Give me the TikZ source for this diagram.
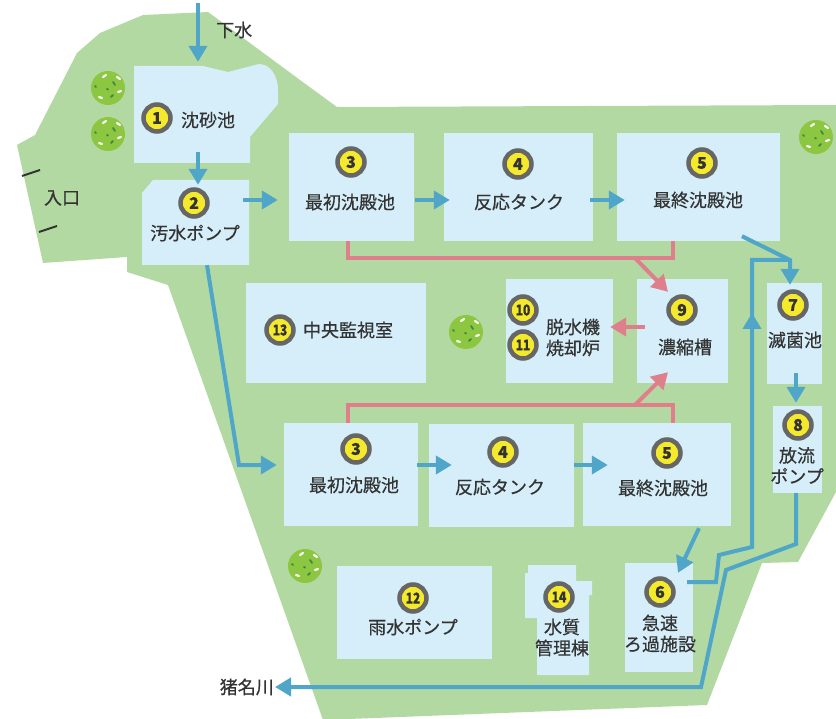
\documentclass[tikz,border=0pt]{standalone}
\usepackage{fontspec}
\setmainfont{Noto Sans CJK JP}[FakeBold=0.5]
\usetikzlibrary{arrows.meta,calc,fit}

\definecolor{lawn}{HTML}{B3D9A3}
\definecolor{tank}{HTML}{D5EEF9}
\definecolor{water}{HTML}{4FA6C8}
\definecolor{sludge}{HTML}{DF7F8C}
\definecolor{leaf}{HTML}{8DC641}
\definecolor{leafdark}{HTML}{3E8A45}
\definecolor{ring}{HTML}{666666}
\definecolor{badgefill}{HTML}{F5E92B}
\definecolor{ink}{HTML}{333333}

\tikzset{
  tankbox/.style={fill=tank, draw=none, inner sep=0pt},
  anchorbox/.style={draw=none, inner sep=0pt},
  badge/.style={circle, fill=badgefill, draw=ring, line width=4.5pt,
    minimum size=27pt, inner sep=0pt, text=ink,
    font=\bfseries\fontsize{16}{16}\selectfont},
  badgetwo/.style={badge, font=\bfseries\fontsize{15}{15}\selectfont},
  lbl/.style={text=ink, inner sep=0pt, align=center,
    font=\fontsize{18}{21}\selectfont},
  pipe/.style={draw=water, line width=4pt},
  flow/.style={pipe, -{Triangle[length=16pt,width=18pt]}},
  sludgepipe/.style={draw=sludge, line width=4pt},
  sludgeflow/.style={sludgepipe, -{Triangle[length=16pt,width=18pt]}},
  tick/.style={draw=ink, line width=2pt}
}

% a round shrub seen from above
\newcommand\shrubicon[1]{%
  \begin{scope}[shift={#1}]
    \fill[leaf] (0,0) circle (17);
    \draw[white, line width=2.2pt, line cap=round]
      (-5,-11) -- (-2,-13)  (9,-11) -- (12,-9)  (10,4) -- (13,3)
      (-9,9) -- (-6,10);
    \draw[leafdark, line width=1.8pt, line cap=round]
      (-13,-2) -- (-12,-1)  (5,-6) -- (7,-3)  (-1,1) -- (0,1.5)
      (3,9) -- (5,7);
  \end{scope}}

\begin{document}
\begin{tikzpicture}[x=1pt, y=-1pt]
\useasboundingbox (0,0) rectangle (836,719);

% site ground
\fill[lawn] (17,145) -- (35,135) -- (77,53) -- (100,33) -- (143,15)
  -- (208,12) -- (300,80) -- (337,107) -- (836,105) -- (836,492)
  -- (798,562) -- (762,563) -- (707,705) -- (400,717) -- (323,720)
  -- (202,380) -- (168,285) -- (127,272) -- (127,257) -- (43,263) -- cycle;

% entrance marks
\draw[tick] (22,176) -- (40,170);
\draw[tick] (39,232) -- (57,226);
\node[lbl] (entry) at (62,198) {入口};

% shrubs
\shrubicon{(108,88)}
\shrubicon{(108,134)}
\shrubicon{(816,137)}
\shrubicon{(466,332)}
\shrubicon{(305,566)}

% irregular buildings
\fill[tank] (134,66) -- (203,66) -- (228,72) -- (255,65)
  .. controls (270,60) and (279,78) .. (278,92) -- (278,104)
  -- (250,137) -- (250,163) -- (134,163) -- cycle;
\path node[anchorbox, fit={(134,65) (278,163)}] (b1) {};
\fill[tank] (142,193) -- (153,180) -- (249,180) -- (249,265) -- (142,265) -- cycle;
\path node[anchorbox, fit={(142,180) (249,265)}] (b2) {};
\fill[tank] (528,565) -- (576,565) -- (576,581) -- (592,581) -- (592,595)
  -- (589,595) -- (589,675) -- (537,675) -- (537,618) -- (525,618)
  -- (525,573) -- (528,573) -- cycle;
\path node[anchorbox, fit={(525,565) (592,675)}] (b14) {};

% rectangular buildings
\node[tankbox, fit={(289,133) (414,241)}] (b3t) {};
\node[tankbox, fit={(444,133) (593,241)}] (b4t) {};
\node[tankbox, fit={(617,133) (780,241)}] (b5t) {};
\node[tankbox, fit={(246,283) (426,383)}] (b13) {};
\node[tankbox, fit={(506,279) (613,383)}] (b1011) {};
\node[tankbox, fit={(637,279) (728,383)}] (b9) {};
\node[tankbox, fit={(767,283) (822,384)}] (b7) {};
\node[tankbox, fit={(773,406) (822,493)}] (b8) {};
\node[tankbox, fit={(284,423) (418,526)}] (b3b) {};
\node[tankbox, fit={(429,424) (574,527)}] (b4b) {};
\node[tankbox, fit={(583,423) (731,526)}] (b5b) {};
\node[tankbox, fit={(337,566) (492,659)}] (b12) {};
\node[tankbox, fit={(625,563) (693,672)}] (b6) {};

% sludge lines
\draw[sludgepipe] ($(b3t.south)+(-3.5,0)$) |- ($(b5t.south)+(-25.5,17)$)
  -- ($(b5t.south)+(-25.5,0)$);
\coordinate (sj1) at (635,258);
\draw[sludgeflow] (sj1) -- ($(b9.north)+(-14.5,13)$);
\draw[sludgepipe] ($(b3b.north)+(-3,0)$) |- ($(b5b.north)+(16,-18)$)
  -- ($(b5b.north)+(16,0)$);
\coordinate (sj2) at (635,405);
\draw[sludgeflow] (sj2) -- ($(b9.south)+(-14.5,-11)$);
\draw[sludgeflow] ($(b9.west)+(8,-4)$) -- ($(b1011.east)+(-3,-4)$);

% water lines
\coordinate (inlet) at (198,3);
\node[lbl, anchor=west] (inlbl) at (216,30) {下水};
\draw[flow] (inlet) -- ($(inlet |- b1.north)+(0,-3)$);
\draw[flow] ($(inlet |- b1.south)+(0,-11)$) -- ($(inlet |- b2.north)+(0,5)$);
\draw[flow] ($(b2.east)+(-6,-22.5)$) -- ($(b3t.west)+(-11,13)$);
\coordinate (bend2) at (239,465);
\draw[flow] ($(b2.south)+(11.5,0)$) -- (bend2) -- ($(b3b.west)+(-7,-9.5)$);
\draw[flow] ($(b3t.east)+(1,13)$) -- ($(b4t.west)+(6,13)$);
\draw[flow] ($(b4t.east)+(-3,13)$) -- ($(b5t.west)+(8,13)$);
\draw[flow] ($(b3b.east)+(-1,-9.5)$) -- ($(b4b.west)+(23,-10.5)$);
\draw[flow] ($(b4b.east)+(0,-10.5)$) -- ($(b5b.west)+(25,-9.5)$);

\coordinate (j7) at (790,260);
\coordinate (r1) at (716,582);
\coordinate (r2) at (719,555);
\coordinate (r3) at (752,547);
\coordinate (r4) at (752,260);
\draw[pipe] ($(b6.east)+(-6,-35.5)$) -- (r1) -- (r2) -- (r3) -- (r4) -- (j7);
\draw[flow] ($(r4)+(0,85)$) -- ($(r4)+(0,53)$);
\draw[flow] ($(b5t.south)+(43.5,-5)$) -- (j7) -- ($(b7.north)+(-4.5,2)$);
\draw[flow] ($(b7.south)+(1.5,-11)$) -- ($(b8.north)+(-1.5,-3)$);
\draw[flow] ($(b5b.south)+(42,2)$) -- ($(b6.north)+(19,10)$);

\coordinate (s1) at (796,544);
\coordinate (s2) at (726,570);
\coordinate (s3) at (701,687);
\coordinate (river) at (275,687);
\draw[flow] ($(b8.south)+(-1.5,0)$) -- (s1) -- (s2) -- (s3) -- (river);
\node[lbl, anchor=east] (riverlbl) at ($(river)+(-1,0)$) {猪名川};

% numbered badges
\node[badge] (n1) at (157,118) {1};
\node[badge] (n2) at (194,203) {2};
\node[badge] (n3t) at (351,162) {3};
\node[badge] (n4t) at (518,164) {4};
\node[badge] (n5t) at (702,163) {5};
\node[badgetwo] (n13) at (280,330) {\scalebox{.8}[1]{13}};
\node[badgetwo] (n10) at (523,310) {\scalebox{.8}[1]{10}};
\node[badgetwo] (n11) at (523,345) {\scalebox{.8}[1]{11}};
\node[badge] (n9) at (682,310) {9};
\node[badge] (n7) at (793,305) {7};
\node[badge] (n8) at (798,425) {8};
\node[badge] (n3b) at (356,449) {3};
\node[badge] (n4b) at (503,452) {4};
\node[badge] (n5b) at (667,453) {5};
\node[badgetwo] (n12) at (413,598) {\scalebox{.8}[1]{12}};
\node[badgetwo] (n14) at (559,597) {\scalebox{.8}[1]{14}};
\node[badge] (n6) at (660,592) {6};

% building names
\node[lbl] (l1) at (208,120) {沈砂池};
\node[lbl] (l2) at (195,233) {汚水ポンプ};
\node[lbl] (l3t) at (350,202) {最初沈殿池};
\node[lbl] (l4t) at (519,202) {反応タンク};
\node[lbl] (l5t) at (698,200) {最終沈殿池};
\node[lbl] (l13) at (348,330) {中央監視室};
\node[lbl] (l1011) at (573,337.5) {脱水機\\焼却炉};
\node[lbl] (l9) at (685,347) {濃縮槽};
\node[lbl] (l7) at (795,340) {滅菌池};
\node[lbl] (l8) at (797,465.5) {放流\\ポンプ};
\node[lbl] (l3b) at (354,485) {最初沈殿池};
\node[lbl] (l4b) at (500,487) {反応タンク};
\node[lbl] (l5b) at (663,488) {最終沈殿池};
\node[lbl] (l12) at (413,627) {雨水ポンプ};
\node[lbl] (l14) at (562,637.5) {水質\\管理棟};
\node[lbl] (l6) at (660,633.5) {急速\\ろ過施設};
\end{tikzpicture}
\end{document}
